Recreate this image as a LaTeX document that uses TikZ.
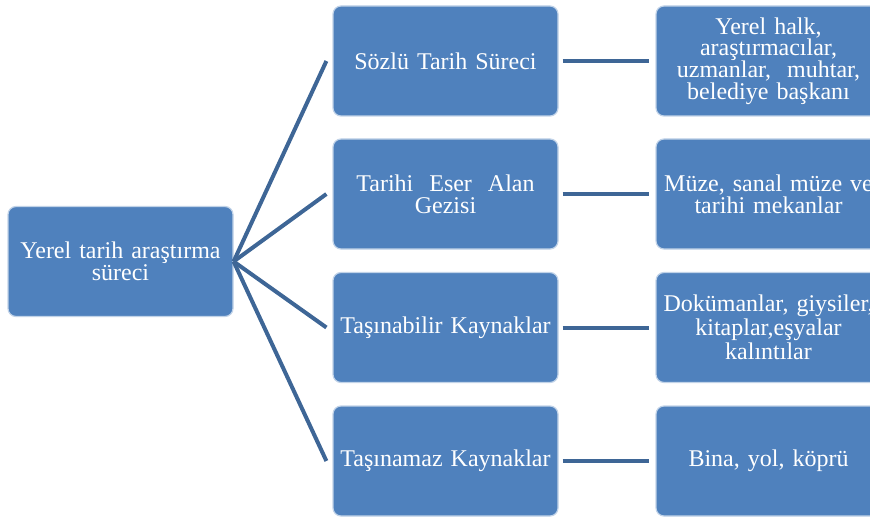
\documentclass[tikz,border=0pt]{standalone}
\usepackage{fontspec}
\setmainfont{Liberation Serif}
\definecolor{boxblue}{HTML}{4F81BD}
\definecolor{lineblue}{HTML}{3E6696}
\begin{document}
\begin{tikzpicture}[x=0.5pt,y=-0.5pt,
    box/.style={draw=white!65!boxblue, line width=0.6pt, fill=boxblue, rounded corners=4pt,
        minimum width=112.5pt, minimum height=55pt, text width=110pt, align=center,
        text=white, inner sep=0pt, font=\fontsize{12}{10.9}\selectfont},
    link/.style={draw=lineblue, line width=2pt}]
    \useasboundingbox (0,0) rectangle (870,518);
    % main box
    \node[box] (root) at (120.5,261.5) {Yerel tarih araştırma\\süreci};
    % middle column
    \node[box] (s1) at (445.5,61) {Sözlü Tarih Süreci};
    \node[box] (s2) at (445.5,194) {Tarihi\ \ Eser\ \ Alan\\Gezisi};
    \node[box] (s3) at (445.5,327.5) {Taşınabilir Kaynaklar};
    \node[box] (s4) at (445.5,461) {Taşınamaz Kaynaklar};
    % right column
    \node[box] (k1) at (768.5,61) {Yerel halk,\\araştırmacılar,\\uzmanlar,\ \ muhtar,\\belediye başkanı};
    \node[box] (k2) at (768.5,194) {Müze, sanal müze ve\\tarihi mekanlar};
    \node[box] (k3) at (768.5,327.5) {Dokümanlar, giysiler,\\kitaplar,eşyalar\\kalıntılar};
    \node[box] (k4) at (768.5,461) {Bina, yol, köprü};
    % links
    \draw[link] (root.east) -- ([xshift=-3pt]s1.west);
    \draw[link] (root.east) -- ([xshift=-3pt]s2.west);
    \draw[link] (root.east) -- ([xshift=-3pt]s3.west);
    \draw[link] (root.east) -- ([xshift=-3pt]s4.west);
    \draw[link] ([xshift=2pt]s1.east) -- ([xshift=-3pt]k1.west);
    \draw[link] ([xshift=2pt]s2.east) -- ([xshift=-3pt]k2.west);
    \draw[link] ([xshift=2pt]s3.east) -- ([xshift=-3pt]k3.west);
    \draw[link] ([xshift=2pt]s4.east) -- ([xshift=-3pt]k4.west);
\end{tikzpicture}
\end{document}
